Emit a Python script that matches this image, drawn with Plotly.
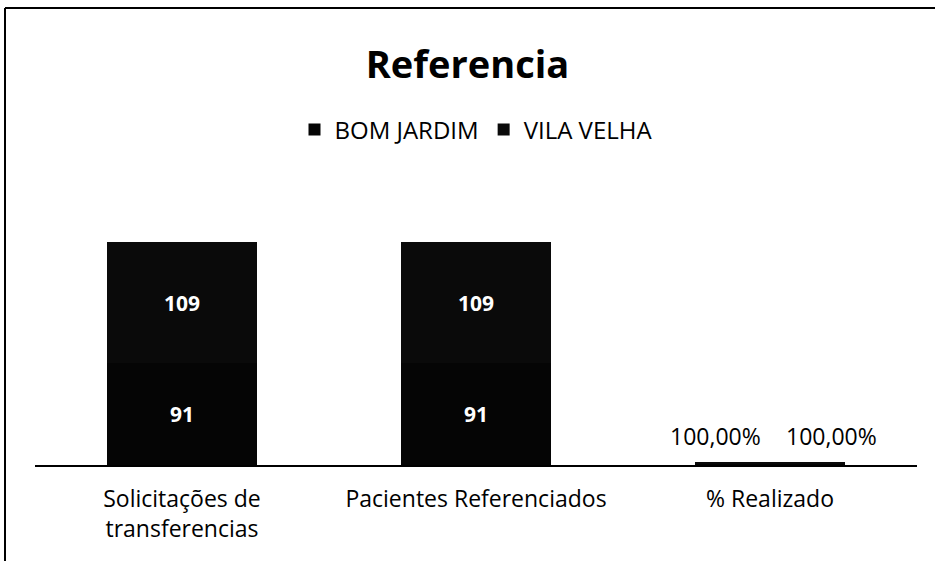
import plotly.graph_objects as go

categories = ["Solicitações de<br>transferencias", "Pacientes Referenciados", "% Realizado"]
bom_jardim = [91, 91, 1]
vila_velha = [109, 109, 1]
bom_labels = ["91", "91", ""]
vila_labels = ["109", "109", ""]
pct_labels = ["100,00%", "100,00%"]

FONT = "Open Sans, Lato, sans-serif"

fig = go.Figure()
fig.add_trace(go.Bar(
    name="BOM JARDIM", x=categories, y=bom_jardim, text=bom_labels,
    textposition="inside", insidetextanchor="middle",
    textfont=dict(color="white", size=21, family=FONT, weight="bold"),
    marker=dict(color="#050505", line=dict(width=0)),
))
fig.add_trace(go.Bar(
    name="VILA VELHA", x=categories, y=vila_velha, text=vila_labels,
    textposition="inside", insidetextanchor="middle",
    textfont=dict(color="white", size=21, family=FONT, weight="bold"),
    marker=dict(color="#0a0a0a", line=dict(width=0)),
))

# percentage labels for the last category
annotations = []
for lab, val, shift in zip(pct_labels, [bom_jardim[2], vila_velha[2]], [-55, 61]):
    annotations.append(dict(
        x=categories[2], y=val, xref="x", yref="y", text=lab, showarrow=False,
        xshift=shift, yshift=10, yanchor="bottom",
        font=dict(size=23, color="black", family=FONT),
    ))

L, R, T, B = 35, 18, 186, 96
pw = 935 - L - R
ph = 561 - T - B

def px_x(p):
    return (p - L) / pw

def px_y(p):
    return (561 - B - p) / ph

shapes = [
    dict(type="line", xref="paper", yref="paper", x0=px_x(5), x1=px_x(940), y0=px_y(8), y1=px_y(8),
         line=dict(color="black", width=2)),
    dict(type="line", xref="paper", yref="paper", x0=px_x(5), x1=px_x(5), y0=px_y(8), y1=px_y(570),
         line=dict(color="black", width=2)),
]

fig.update_layout(
    barmode="stack",
    bargap=0.487,
    width=935, height=561,
    margin=dict(l=L, r=R, t=T, b=B),
    paper_bgcolor="white", plot_bgcolor="white",
    font=dict(family=FONT, size=24, color="black"),
    title=dict(text="<b>Referencia</b>", x=0.5, xanchor="center", y=1 - 65 / 561, yanchor="middle",
               font=dict(size=38, family=FONT, color="black")),
    legend=dict(orientation="h", x=0.5, xanchor="center", y=px_y(130), yanchor="middle",
                font=dict(size=24, family=FONT), traceorder="normal", itemwidth=30),
    xaxis=dict(showline=True, linecolor="black", linewidth=2, ticks="", showgrid=False,
               tickfont=dict(size=23, family=FONT), automargin=False, ticklabelstandoff=12),
    yaxis=dict(range=[0, 250], visible=False, showgrid=False),
    annotations=annotations,
    shapes=shapes,
)

fig.write_html("out.html", config={"displayModeBar": False},
               post_script="document.body.style.margin='0';")
